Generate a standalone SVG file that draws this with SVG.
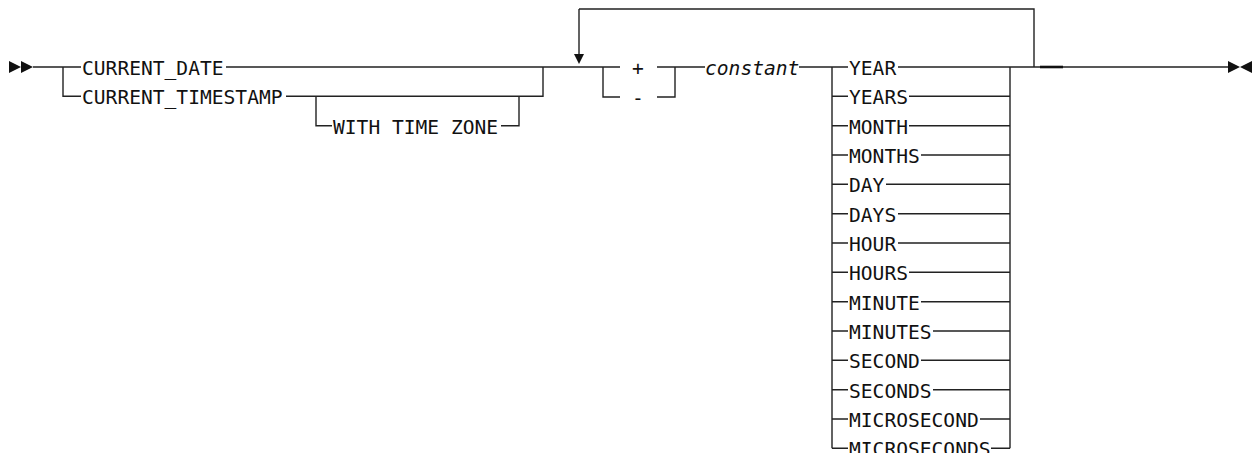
<svg xmlns="http://www.w3.org/2000/svg" width="1252" height="453" viewBox="0 0 1252 453">
<style>
.ln{fill:none;stroke:#222;stroke-width:1.4}
.t{font-family:"DejaVu Sans Mono","Liberation Mono",monospace;font-size:19.6px;fill:#111}
.i{font-style:italic}
.ar{fill:#111}
</style>
<rect width="1252" height="453" fill="#fff"/>
<g id="connectors">
<path class="ln" d="M33 67H81M63 67V96.3H81M226 67H543M286 96.3H543V67M316 96.3V125.7H332M501 125.7H519V96.3M543 67H620M657 67H705M603 67V97H620M657 97H675V67M799 67H848M579 9V60M579 9H1034V67"/>
<path class="ln" d="M832 67V448.3M1010 67V448.3M1010 67H1228"/>
<path d="M1040 67H1063" stroke="#111" stroke-width="2.6"/>
<path class="ln" d="M898 67H1010M832 96.3H848M909 96.3H1010M832 125.7H848M909 125.7H1010M832 155H848M921 155H1010M832 184.3H848M886 184.3H1010M832 213.7H848M898 213.7H1010M832 243H848M898 243H1010M832 272.3H848M909 272.3H1010M832 301.7H848M921 301.7H1010M832 331H848M933 331H1010M832 360.3H848M921 360.3H1010M832 389.7H848M933 389.7H1010M832 419H848M980 419H1010M832 448.3H848M991 448.3H1010"/>
<polygon class="ar" points="574,54 584,54 579,64"/>
</g>
<g id="start"><polygon class="ar" points="9,61 21,67 9,73"/><polygon class="ar" points="21,61 33,67 21,73"/></g>
<g id="current_date"><text class="t" x="82" y="75">CURRENT_DATE</text></g>
<g id="current_timestamp"><text class="t" x="82" y="104.3">CURRENT_TIMESTAMP</text></g>
<g id="with_time_zone"><text class="t" x="333" y="133.7">WITH TIME ZONE</text></g>
<g id="plus"><text class="t" x="632" y="75">+</text></g>
<g id="minus"><text class="t" x="632" y="105">-</text></g>
<g id="constant"><text class="t i" x="705" y="75">constant</text></g>
<g id="year"><text class="t" x="849" y="75">YEAR</text></g>
<g id="years"><text class="t" x="849" y="104.3">YEARS</text></g>
<g id="month"><text class="t" x="849" y="133.7">MONTH</text></g>
<g id="months"><text class="t" x="849" y="163">MONTHS</text></g>
<g id="day"><text class="t" x="849" y="192.3">DAY</text></g>
<g id="days"><text class="t" x="849" y="221.7">DAYS</text></g>
<g id="hour"><text class="t" x="849" y="251">HOUR</text></g>
<g id="hours"><text class="t" x="849" y="280.3">HOURS</text></g>
<g id="minute"><text class="t" x="849" y="309.7">MINUTE</text></g>
<g id="minutes"><text class="t" x="849" y="339">MINUTES</text></g>
<g id="second"><text class="t" x="849" y="368.3">SECOND</text></g>
<g id="seconds"><text class="t" x="849" y="397.7">SECONDS</text></g>
<g id="microsecond"><text class="t" x="849" y="427">MICROSECOND</text></g>
<g id="microseconds"><text class="t" x="849" y="456.3">MICROSECONDS</text></g>
<g id="end"><polygon class="ar" points="1228,61 1240,67 1228,73"/><polygon class="ar" points="1252,61 1240,67 1252,73"/></g>
</svg>
